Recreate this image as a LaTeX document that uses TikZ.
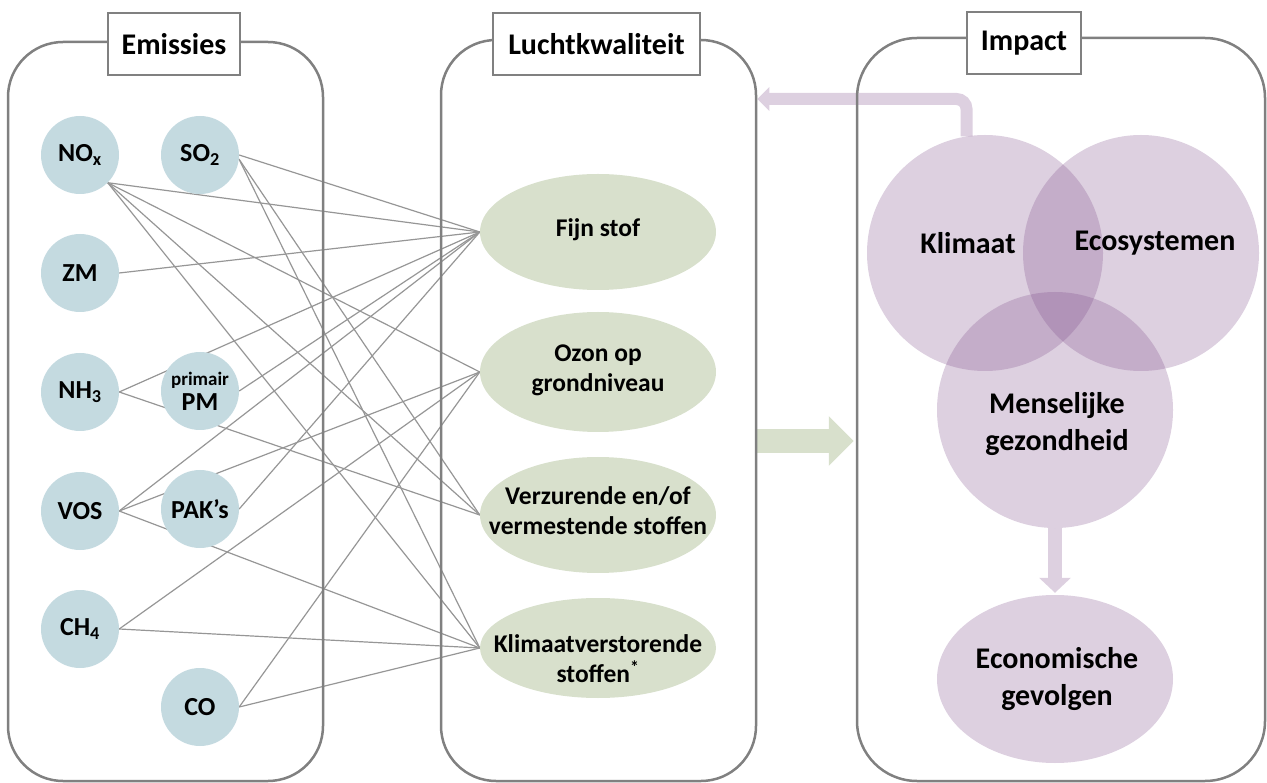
\documentclass[tikz,border=0pt]{standalone}
\usepackage{fontspec}
\setmainfont{Carlito}
\usetikzlibrary{shapes.geometric,arrows.meta,backgrounds}
\definecolor{panelgray}{RGB}{128,128,128}
\definecolor{linegray}{RGB}{150,150,150}
\definecolor{emisfill}{RGB}{196,218,224}
\definecolor{ellfill}{RGB}{216,224,204}
\definecolor{impcol}{RGB}{127,78,138}
\definecolor{implight}{RGB}{221,208,224}
\begin{document}
\begin{tikzpicture}[x=1pt,y=-1pt,
  panel/.style={draw=panelgray, line width=2.5pt, rounded corners=55pt, inner sep=0pt, minimum width=315pt},
  titlebox/.style={draw=panelgray, line width=2pt, fill=white, minimum height=62pt, inner sep=0pt, font=\fontsize{30}{32}\selectfont\bfseries},
  emis/.style={circle, fill=emisfill, minimum size=78pt, inner sep=0pt, align=center, font=\fontsize{26}{25}\selectfont\bfseries},
  lucht/.style={ellipse, fill=ellfill, minimum width=236pt, minimum height=116pt, inner sep=0pt},
  luchttext/.style={align=center, inner sep=0pt, font=\fontsize{25.5}{30}\selectfont\bfseries},
  impc/.style={circle, fill=impcol, fill opacity=0.265, minimum size=236pt, inner sep=0pt},
  imptext/.style={align=center, inner sep=0pt, font=\fontsize{30}{37}\selectfont\bfseries},
  conn/.style={draw=linegray, line width=1.2pt},
]
\useasboundingbox (0,0) rectangle (1267,783);
\clip (0,0) rectangle (1267,783);

% panels
\node[panel, minimum height=739pt] (em) at (165.5,411.5) {};
\node[panel, minimum height=741pt] (lk) at (598.5,410.5) {};
\node[panel, minimum width=408pt, minimum height=743pt, rounded corners=60pt] (imp) at (1061,409.5) {};

% title boxes
\node[titlebox, minimum width=132pt] (emt) at (174,44) {Emissies};
\node[titlebox, minimum width=207pt] (lkt) at (596.5,44) {Luchtkwaliteit};
\node[titlebox, minimum width=114pt] (impt) at (1024,43) {Impact};

% emissions
\node[emis] (nox) at (80,155) {NO\textsubscript{x}};
\node[emis] (so2) at (200,155) {SO\textsubscript{2}};
\node[emis] (zm) at (80,273) {ZM};
\node[emis] (nh3) at (80,392) {NH\textsubscript{3}};
\node[emis] (pm) at (200,391) {{\fontsize{19}{19}\selectfont primair}\\PM};
\node[emis] (vos) at (80,511) {VOS};
\node[emis] (pak) at (200,509) {PAK’s};
\node[emis] (ch4) at (80,629) {CH\textsubscript{4}};
\node[emis] (co) at (200,707) {CO};

% air quality
\node[lucht] (fijn) at (598,232) {};
\node[lucht, minimum height=120pt] (ozon) at (598,372) {};
\node[lucht] (verz) at (598,515) {};
\node[lucht, minimum height=100pt] (klv) at (598,648) {};
\node[luchttext] (fijnT) at (598,230) {Fijn stof};
\node[luchttext] (ozonT) at (598,370) {Ozon op\\grondniveau};
\node[luchttext] (verzT) at (598,511) {Verzurende en/of\\vermestende stoffen};
\node[luchttext] (klvT) at (598,659) {Klimaatverstorende\\stoffen\textsuperscript{*}};

% impact
\node[impc] (klim) at (985,253) {};
\node[impc] (eco) at (1141,253) {};
\node[impc] (men) at (1055,410) {};
\node[ellipse, fill=implight, minimum width=236pt, minimum height=168pt, inner sep=0pt] (econ) at (1055,679) {};
\node[imptext] (klimT) at (968,243) {Klimaat};
\node[imptext] (ecoT) at (1155,243) {Ecosystemen};
\node[imptext] (menT) at (1057,424) {Menselijke\\gezondheid};
\node[imptext] (econT) at (1057,679) {Economische\\gevolgen};

\coordinate (ta) at (0,99);
\coordinate (ga) at (0,441);

\begin{scope}[on background layer]
  \foreach \src/\dst in {nox.-45/fijn, nox.-45/ozon, nox.-45/verz, nox.-45/klv,
      so2.east/fijn, so2.-6/verz, so2.-6/klv, zm.east/fijn, nh3.east/fijn, nh3.east/verz,
      pm.east/fijn, vos.east/fijn, vos.east/ozon, vos.east/klv, pak.east/fijn,
      ch4.east/ozon, ch4.east/klv, co.east/ozon, co.east/klv}
    \draw[conn] (\src) -- (\dst.west);
  \draw[draw=implight, line width=12pt, rounded corners=10pt, -{Triangle[width=23pt,length=12pt]}] (klim.99) |- (lk.east |- ta);
  \draw[draw=ellfill, line width=24pt, -{Triangle[width=48pt,length=25pt]}, shorten >=2pt] (lk.east |- ga) -- (imp.west |- ga);
  \draw[draw=implight, line width=14pt, -{Triangle[width=31pt,length=15pt]}, shorten >=2pt] (men.south) -- (econ.north);
\end{scope}
\end{tikzpicture}
\end{document}
